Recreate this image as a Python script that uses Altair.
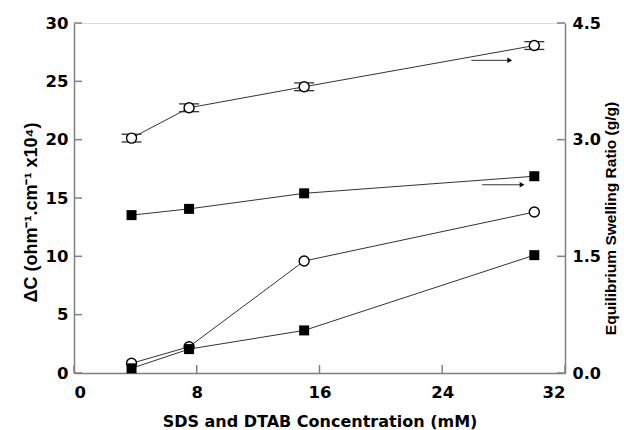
import altair as alt
import pandas as pd

# ---- data ----
conc = [3.75, 7.5, 15, 30]
dc_circle = [0.83, 2.25, 9.6, 13.8]      # ΔC, open circles (left axis)
dc_square = [0.4, 2.05, 3.65, 10.1]      # ΔC, filled squares (left axis)
sw_circle = [3.02, 3.41, 3.68, 4.21]     # swelling ratio, open circles (right axis)
sw_square = [2.03, 2.11, 2.31, 2.53]     # swelling ratio, filled squares (right axis)
sw_circle_err = [0.05, 0.05, 0.05, 0.05]

x_ticks = [0, 8, 16, 24, 32]
left_ticks = [0, 5, 10, 15, 20, 25, 30]
right_ticks = [0, 1.5, 3.0, 4.5]

# arrows pointing to the right axis (start x, end x, y in right-axis units)
arrow_x1 = [25.9, 26.6]
arrow_x2 = [28.4, 29.2]
arrow_y = [4.02, 2.42]

W, H = 491, 350
GRAY = "#808080"
LINE = "#333333"
HFONT = "DejaVu Sans"
VFONT = "Liberation Sans"

left_df = pd.DataFrame({
    "x": conc * 2,
    "y": dc_circle + dc_square,
    "s": ["c"] * 4 + ["s"] * 4,
})
right_df = pd.DataFrame({
    "x": conc * 2,
    "y": sw_circle + sw_square,
    "s": ["c"] * 4 + ["s"] * 4,
})
err_df = pd.DataFrame({
    "x": conc,
    "lo": [v - e for v, e in zip(sw_circle, sw_circle_err)],
    "hi": [v + e for v, e in zip(sw_circle, sw_circle_err)],
})
arrow_df = pd.DataFrame({"x1": arrow_x1, "x2": arrow_x2, "y": arrow_y})

xscale = alt.Scale(domain=[0, 32], nice=False, zero=False)
lscale = alt.Scale(domain=[0, 30], nice=False)
rscale = alt.Scale(domain=[0, 4.5], nice=False)

xaxis = alt.Axis(values=x_ticks, ticks=False, grid=False, labelPadding=11,
                 labelFont=HFONT, labelFontSize=16.5, labelFontWeight="bold",
                 labelColor="black", domainColor=GRAY, domainWidth=1.5,
                 title="SDS and DTAB Concentration (mM)", titleFont=HFONT,
                 titleFontSize=16, titleFontWeight="bold", titleColor="black",
                 titlePadding=13)
laxis = alt.Axis(values=left_ticks, ticks=False, grid=False, labelPadding=6,
                 labelFont=HFONT, labelFontSize=16.5, labelFontWeight="bold",
                 labelColor="black", domainColor=GRAY, domainWidth=1.5,
                 title="ΔC (ohm⁻¹.cm⁻¹ x10⁴)", titleFont=VFONT,
                 titleFontSize=18, titleFontWeight="bold", titleColor="black",
                 titlePadding=5, titleY=189)
raxis = alt.Axis(values=right_ticks, format=".1f", ticks=False, grid=False,
                 labelPadding=7, orient="right",
                 labelFont=HFONT, labelFontSize=16, labelFontWeight="bold",
                 labelColor="black", domainColor=GRAY, domainWidth=1.5,
                 title="Equilibrium Swelling Ratio (g/g)", titleFont=VFONT,
                 titleFontSize=15.5, titleFontWeight="bold", titleColor="black",
                 titlePadding=3, titleAngle=270, titleBaseline="top", titleY=195)

# ---- left (ΔC) layer ----
xt = alt.Chart(pd.DataFrame({"x": x_ticks})).mark_rule(
    color=GRAY, strokeWidth=1.5).encode(
    x=alt.X("x:Q", scale=xscale, axis=xaxis), y=alt.value(H), y2=alt.value(H - 8))
l_lines = alt.Chart(left_df).mark_line(color=LINE, strokeWidth=1).encode(
    x="x:Q", y=alt.Y("y:Q", scale=lscale, axis=laxis), detail="s:N")
l_circ = alt.Chart(left_df).transform_filter("datum.s == 'c'").mark_point(
    shape="circle", size=100, filled=True, fill="white", stroke="black",
    strokeWidth=1.4, opacity=1).encode(x="x:Q", y="y:Q")
l_sq = alt.Chart(left_df).transform_filter("datum.s == 's'").mark_point(
    shape="square", size=100, filled=True, color="black", opacity=1).encode(
    x="x:Q", y="y:Q")
lt = alt.Chart(pd.DataFrame({"y": left_ticks})).mark_rule(
    color=GRAY, strokeWidth=1.5).encode(
    y="y:Q", x=alt.value(0), x2=alt.value(8))
left = alt.layer(xt, l_lines, lt, l_circ, l_sq)

# ---- right (swelling) layer ----
r_lines = alt.Chart(right_df).mark_line(color=LINE, strokeWidth=1).encode(
    x="x:Q", y=alt.Y("y:Q", scale=rscale, axis=raxis), detail="s:N")
r_err = alt.Chart(err_df).mark_rule(color=LINE, strokeWidth=1).encode(
    x="x:Q", y="lo:Q", y2="hi:Q")
r_cap_lo = alt.Chart(err_df).mark_tick(orient="horizontal", size=20,
                                       thickness=1.3, color=LINE, opacity=1).encode(
    x="x:Q", y="lo:Q")
r_cap_hi = alt.Chart(err_df).mark_tick(orient="horizontal", size=20,
                                       thickness=1.3, color=LINE, opacity=1).encode(
    x="x:Q", y="hi:Q")
r_circ = alt.Chart(right_df).transform_filter("datum.s == 'c'").mark_point(
    shape="circle", size=100, filled=True, fill="white", stroke="black",
    strokeWidth=1.4, opacity=1).encode(x="x:Q", y="y:Q")
r_sq = alt.Chart(right_df).transform_filter("datum.s == 's'").mark_point(
    shape="square", size=100, filled=True, color="black", opacity=1).encode(
    x="x:Q", y="y:Q")
rt = alt.Chart(pd.DataFrame({"t": right_ticks})).mark_rule(
    color=GRAY, strokeWidth=1.5).encode(
    y="t:Q", x=alt.value(W), x2=alt.value(W - 8))
a_line = alt.Chart(arrow_df).mark_rule(color=LINE, strokeWidth=1).encode(
    x="x1:Q", x2="x2:Q", y="y:Q")
a_head = alt.Chart(arrow_df).mark_point(
    shape="triangle-right", size=30, filled=True, color="black", opacity=1).encode(
    x="x2:Q", y="y:Q")
right = alt.layer(r_lines, r_err, r_cap_lo, r_cap_hi, r_circ, r_sq, rt, a_line, a_head)

chart = alt.layer(left, right).resolve_scale(y="independent").properties(
    width=W, height=H,
    autosize=alt.AutoSizeParams(type="none"),
    padding={"left": 74, "top": 23, "right": 59, "bottom": 57},
).configure_view(stroke=GRAY, strokeWidth=1.5).configure(background="white")

chart.save("out.html", embed_options={"renderer": "svg", "actions": False})
